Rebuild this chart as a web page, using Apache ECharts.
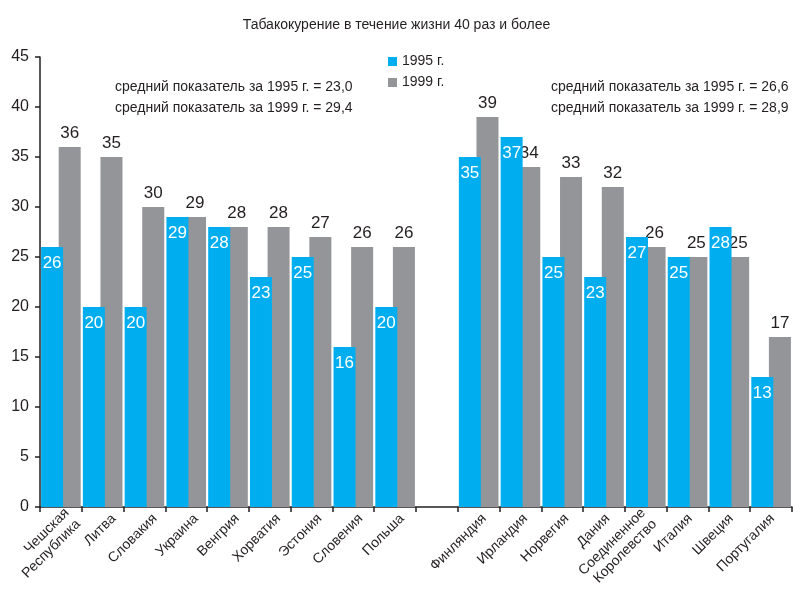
<!DOCTYPE html>
<html><head><meta charset="utf-8">
<script src="https://cdn.jsdelivr.net/npm/echarts@6/dist/echarts.min.js"></script>
<style>html,body{margin:0;padding:0;background:#fff}#c{width:793px;height:592px}</style>
</head><body><div id="c"></div>
<script>
const categories = ['Чешская\nРеспублика','Литва','Словакия','Украина','Венгрия','Хорватия','Эстония','Словения','Польша','','Финляндия','Ирландия','Норвегия','Дания','Соединенное\nКоролевство','Италия','Швеция','Португалия'];
const values1995 = [26,20,20,29,28,23,25,16,20,null,35,37,25,23,27,25,28,13];
const values1999 = [36,35,30,29,28,28,27,26,26,null,39,34,33,32,26,25,25,17];
const seriesNames = ['1995 г.','1999 г.'];
const titleText = 'Табакокурение в течение жизни 40 раз и более';
const noteLeft = ['средний показатель за 1995 г. = 23,0','средний показатель за 1999 г. = 29,4'];
const noteRight = ['средний показатель за 1995 г. = 26,6','средний показатель за 1999 г. = 28,9'];

const FONT = "'Liberation Sans',Arial,sans-serif";
const TXT = '#231f20';
const chart = echarts.init(document.getElementById('c'), null, {renderer:'canvas'});
chart.setOption({
  animation:false,
  backgroundColor:'#fff',
  textStyle:{fontFamily:FONT},
  title:{text:titleText,left:'center',top:13,textStyle:{fontFamily:FONT,fontSize:14,fontWeight:'normal',color:TXT}},
  legend:{orient:'vertical',left:383,top:49,itemWidth:9,itemHeight:9,itemGap:6,icon:'rect',
    textStyle:{fontFamily:FONT,fontSize:14,lineHeight:15,color:TXT},data:seriesNames},
  grid:[{left:40,top:57,width:752,height:450,containLabel:false},
        {left:52,top:57,width:752,height:450,containLabel:false}],
  xAxis:[{type:'category',gridIndex:0,data:categories,
      axisLine:{lineStyle:{color:TXT,width:1.5}},
      axisTick:{show:true,interval:0,length:5,lineStyle:{color:TXT,width:1.5}},
      axisLabel:{show:false}},
    {type:'category',gridIndex:1,data:categories,
      axisLine:{show:false},axisTick:{show:false},
      axisLabel:{interval:0,rotate:45,margin:14,fontFamily:FONT,fontSize:14,color:TXT,lineHeight:16}}],
  yAxis:[{type:'value',gridIndex:0,min:0,max:45,interval:5,
      axisLine:{show:true,lineStyle:{color:TXT,width:1.5}},
      axisTick:{show:true,length:5,lineStyle:{color:TXT,width:1.5}},
      splitLine:{show:false},
      axisLabel:{margin:11,fontFamily:FONT,fontSize:16,color:TXT}},
    {type:'value',gridIndex:1,min:0,max:45,show:false}],
  series:[
    {name:seriesNames[0],type:'bar',xAxisIndex:0,yAxisIndex:0,data:values1995,z:3,
      barWidth:22,barGap:'-20%',itemStyle:{color:'#00aeef'},
      label:{show:true,position:'insideTop',distance:8,color:'#fff',fontFamily:FONT,fontSize:17}},
    {name:seriesNames[1],type:'bar',xAxisIndex:0,yAxisIndex:0,data:values1999,z:2,
      barWidth:22,itemStyle:{color:'#939598'},
      label:{show:true,position:'top',distance:5,color:TXT,fontFamily:FONT,fontSize:17}}
  ],
  graphic:[
    {type:'text',left:115,top:77,style:{text:noteLeft.join('\n'),fontFamily:FONT,fontSize:14,lineHeight:21,fill:TXT}},
    {type:'text',left:551,top:77,style:{text:noteRight.join('\n'),fontFamily:FONT,fontSize:14,lineHeight:21,fill:TXT}}
  ]
});
</script></body></html>
